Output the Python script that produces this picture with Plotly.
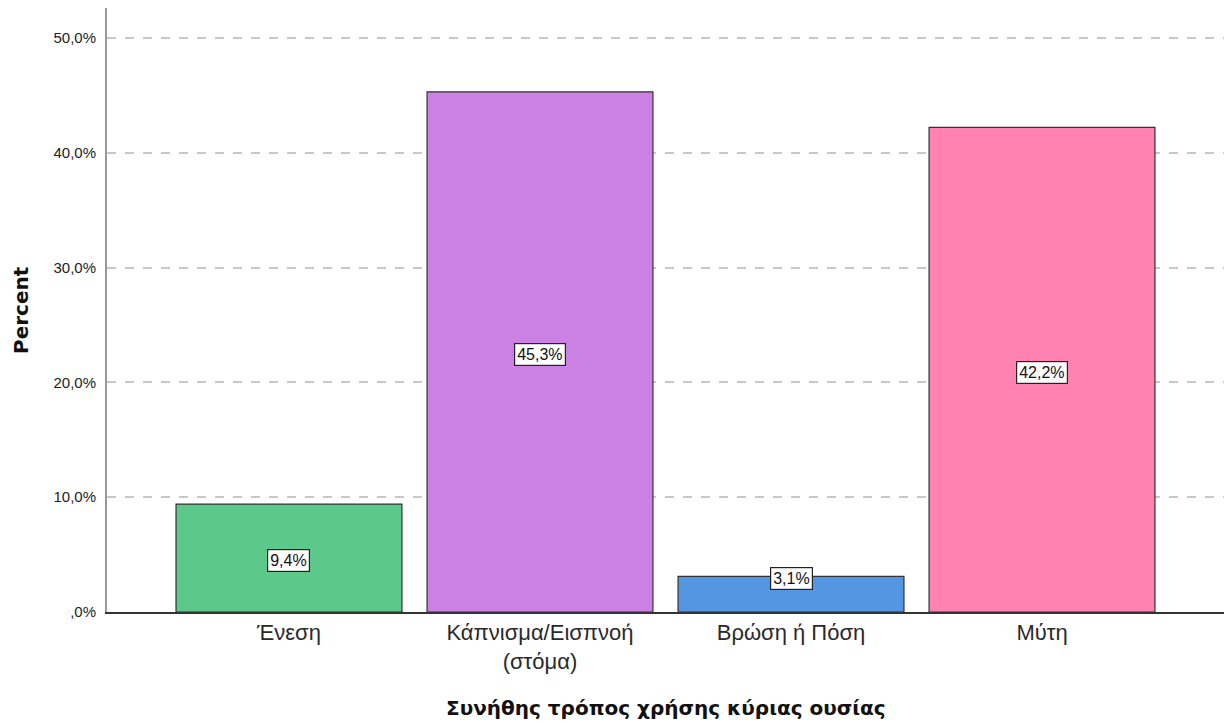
import plotly.graph_objects as go

categories = ["Ένεση", "Κάπνισμα/Εισπνοή<br>(στόμα)", "Βρώση ή Πόση", "Μύτη"]
percents = [9.4, 45.3, 3.1, 42.2]
bar_colors = ["#5CC98B", "#CB80E4", "#5596E3", "#FF82B0"]
tick_vals = [0, 10, 20, 30, 40, 50]
tick_text = [",0%", "10,0%", "20,0%", "30,0%", "40,0%", "50,0%"]

FONT = "Liberation Sans, Arial, sans-serif"
BOLD_FONT = "DejaVu Sans, Verdana, sans-serif"

fig = go.Figure(
    go.Bar(
        x=list(range(len(categories))),
        y=percents,
        width=0.9,
        marker=dict(color=bar_colors, line=dict(color="#333333", width=1.2)),
        hoverinfo="skip",
    )
)

# value boxes, placed in middle of bar (small bars get label near the top)
for i, v in enumerate(percents):
    ypos = v / 2 - 0.25 if v > 6 else v - 0.15
    fig.add_annotation(
        x=i, y=ypos, text=f"{v:.1f}%".replace(".", ","),
        showarrow=False, bgcolor="white", bordercolor="#222222",
        borderwidth=1.2, borderpad=2,
        font=dict(family=FONT, size=16, color="#111111"),
    )

# axis titles
fig.add_annotation(
    xref="paper", yref="paper", x=0.5, y=0, yshift=-96,
    text="<b>Συνήθης τρόπος χρήσης κύριας ουσίας</b>", showarrow=False,
    xanchor="center", yanchor="middle",
    font=dict(family=BOLD_FONT, size=20, color="#111111"),
)
fig.add_annotation(
    xref="paper", yref="paper", x=0, y=0.5, xshift=-86,
    text="<b>Percent</b>", showarrow=False, textangle=-90,
    xanchor="center", yanchor="middle",
    font=dict(family=BOLD_FONT, size=20, color="#111111"),
)

fig.update_layout(
    width=1232, height=722,
    margin=dict(l=99, r=16, t=0, b=118),
    paper_bgcolor="white", plot_bgcolor="white",
    showlegend=False,
    font=dict(family=FONT, color="#222222"),
)

fig.update_xaxes(
    range=[-0.725, 3.725],
    tickvals=list(range(len(categories))), ticktext=categories,
    tickfont=dict(size=22, color="#2a2a2a"),
    showline=True, linecolor="#333333", linewidth=1.5,
    ticks="", showgrid=False, zeroline=False,
)
fig.update_yaxes(
    range=[0, 52.6],
    tickvals=tick_vals, ticktext=tick_text,
    tickfont=dict(size=15, color="#222222"),
    showline=True, linecolor="#999999", linewidth=2,
    ticks="outside", ticklen=6, tickcolor="rgba(0,0,0,0)",
    showgrid=True, gridcolor="#C8C8C8", gridwidth=1.5, griddash="dash",
    zeroline=False,
)

fig.write_html("out.html")
